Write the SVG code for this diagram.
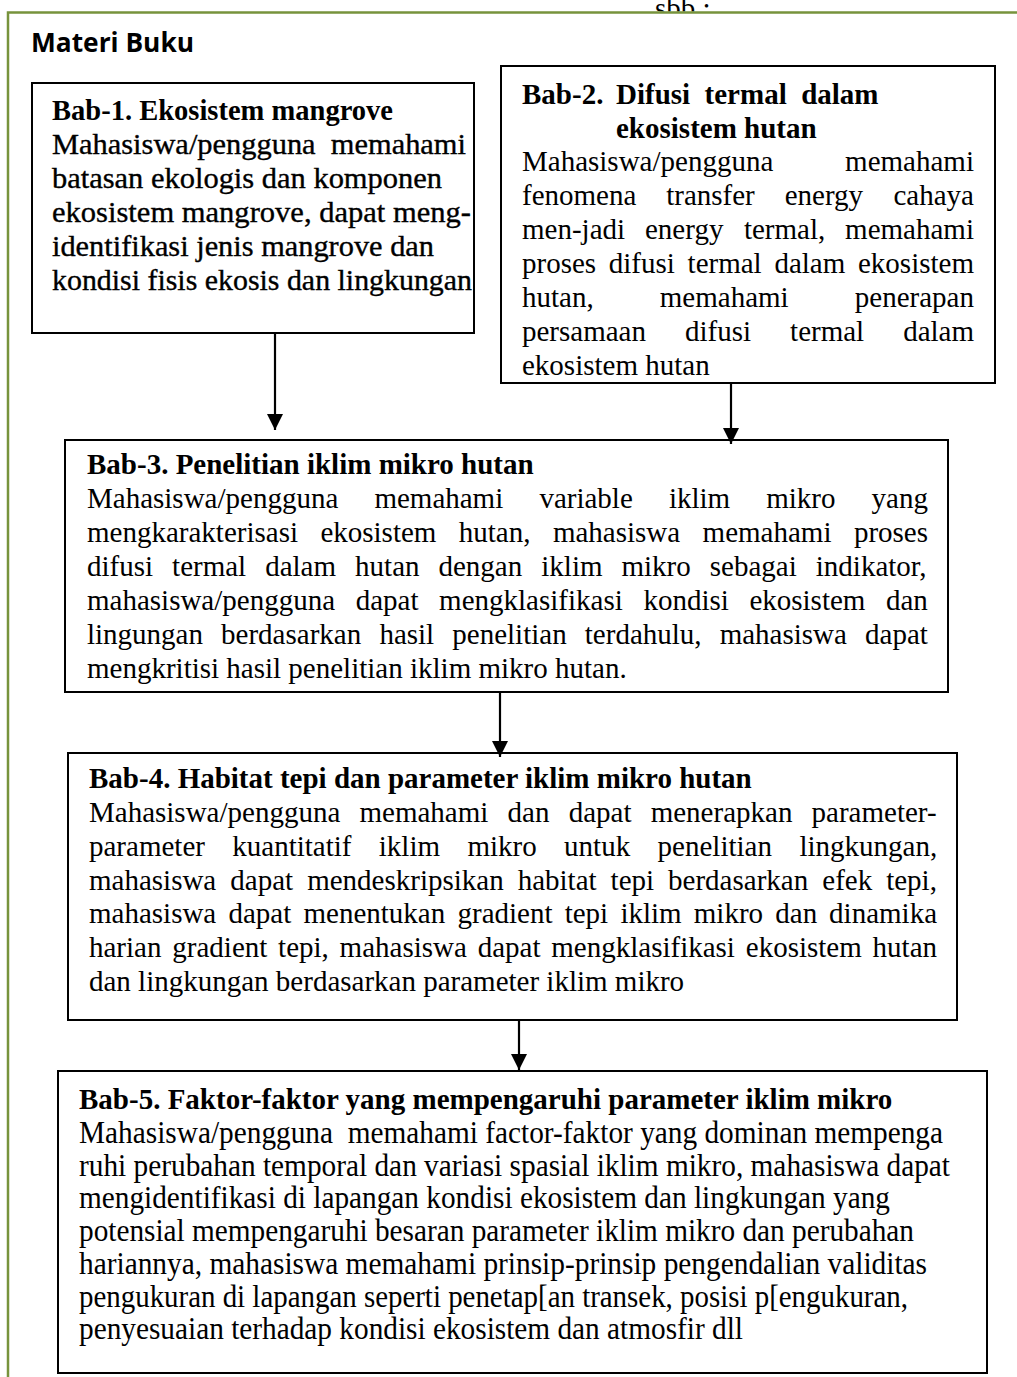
<svg xmlns="http://www.w3.org/2000/svg" width="1017" height="1377" viewBox="0 0 1017 1377">
  <style>
    .frame { fill: none; stroke: #77933c; stroke-width: 2.5; }
    .box { fill: #ffffff; stroke: #000000; stroke-width: 2; }
    .t { font-family: "Liberation Serif", "Times New Roman", serif; font-size: 29px; fill: #000000; white-space: pre; }
    .b { font-weight: bold; }
    .c { font-size: 31px; }
    .heavy { stroke: #000000; stroke-width: 0.35; }
    .title { font-family: "Open Sans", "Liberation Sans", sans-serif; font-size: 26px; font-weight: bold; fill: #000000; }
    .conn { stroke: #000000; stroke-width: 2.2; fill: none; }
  </style>
  <defs>
    <marker id="arrow" markerUnits="userSpaceOnUse" markerWidth="17" markerHeight="17" refX="16" refY="8" orient="auto">
      <path d="M0,0 L16,8 L0,16 Z" fill="#000000"/>
    </marker>
    <clipPath id="above-frame">
      <rect x="0" y="0" width="1017" height="11.5"/>
    </clipPath>
  </defs>

  <rect x="0" y="0" width="1017" height="1377" fill="#ffffff"/>

  <!-- running text above the frame, cut by the page edge -->
  <text class="t" x="655" y="18" font-size="25" clip-path="url(#above-frame)">sbb :</text>

  <!-- green page frame -->
  <path class="frame" d="M8,1377 L8,12.5 L1017,12.5"/>

  <text class="title" x="31" y="52" textLength="163" lengthAdjust="spacingAndGlyphs">Materi Buku</text>

  <!-- Bab-1 -->
  <g id="bab1">
    <rect class="box" x="32" y="83" width="442" height="250"/>
    <text class="t b" x="52" y="120" font-size="28" textLength="341" lengthAdjust="spacingAndGlyphs">Bab-1. Ekosistem mangrove</text>
    <text class="t heavy" x="52" y="154" font-size="28" textLength="414" lengthAdjust="spacingAndGlyphs">Mahasiswa/pengguna  memahami</text>
    <text class="t heavy" x="52" y="188" font-size="28" textLength="390" lengthAdjust="spacingAndGlyphs">batasan ekologis dan komponen</text>
    <text class="t heavy" x="52" y="222" font-size="28" textLength="419" lengthAdjust="spacingAndGlyphs">ekosistem mangrove, dapat meng-</text>
    <text class="t heavy" x="52" y="256" font-size="28" textLength="382" lengthAdjust="spacingAndGlyphs">identifikasi jenis mangrove dan</text>
    <text class="t heavy" x="52" y="290" font-size="28" textLength="420" lengthAdjust="spacingAndGlyphs">kondisi fisis ekosis dan lingkungan</text>
  </g>

  <!-- Bab-2 -->
  <g id="bab2">
    <rect class="box" x="501" y="66" width="494" height="317"/>
    <text class="t b" y="104"><tspan x="522">Bab-2.</tspan><tspan x="616">Difusi</tspan><tspan x="704.6">termal</tspan><tspan x="801.2">dalam</tspan></text>
    <text class="t b" x="616" y="138">ekosistem hutan</text>
    <text class="t" y="171"><tspan x="522">Mahasiswa/pengguna</tspan><tspan x="845.1">memahami</tspan></text>
    <text class="t" y="205"><tspan x="522">fenomena</tspan><tspan x="666.2">transfer</tspan><tspan x="784.7">energy</tspan><tspan x="893.5">cahaya</tspan></text>
    <text class="t" y="239"><tspan x="522">men-jadi</tspan><tspan x="645">energy</tspan><tspan x="743.9">termal,</tspan><tspan x="845.1">memahami</tspan></text>
    <text class="t" y="273"><tspan x="522">proses</tspan><tspan x="608.8">difusi</tspan><tspan x="687.6">termal</tspan><tspan x="774.4">dalam</tspan><tspan x="858">ekosistem</tspan></text>
    <text class="t" y="307"><tspan x="522">hutan,</tspan><tspan x="659.8">memahami</tspan><tspan x="854.8">penerapan</tspan></text>
    <text class="t" y="341"><tspan x="522">persamaan</tspan><tspan x="685">difusi</tspan><tspan x="790.1">termal</tspan><tspan x="903.2">dalam</tspan></text>
    <text class="t" x="522" y="375">ekosistem hutan</text>
  </g>

  <!-- Bab-3 -->
  <g id="bab3">
    <rect class="box" x="65" y="440" width="883" height="252"/>
    <text class="t b" x="87" y="474">Bab-3. Penelitian iklim mikro hutan</text>
    <text class="t" y="508"><tspan x="87">Mahasiswa/pengguna</tspan><tspan x="374.4">memahami</tspan><tspan x="539.4">variable</tspan><tspan x="668.9">iklim</tspan><tspan x="766.2">mikro</tspan><tspan x="871.6">yang</tspan></text>
    <text class="t" y="542"><tspan x="87">mengkarakterisasi</tspan><tspan x="320.4">ekosistem</tspan><tspan x="458.8">hutan,</tspan><tspan x="552.9">mahasiswa</tspan><tspan x="702.6">memahami</tspan><tspan x="853.9">proses</tspan></text>
    <text class="t" y="576"><tspan x="87">difusi</tspan><tspan x="172.1">termal</tspan><tspan x="265.2">dalam</tspan><tspan x="355.1">hutan</tspan><tspan x="438.5">dengan</tspan><tspan x="541.3">iklim</tspan><tspan x="621.5">mikro</tspan><tspan x="709.8">sebagai</tspan><tspan x="815.8">indikator,</tspan></text>
    <text class="t" y="610"><tspan x="87">mahasiswa/pengguna</tspan><tspan x="355.7">dapat</tspan><tspan x="439.1">mengklasifikasi</tspan><tspan x="643.4">kondisi</tspan><tspan x="749.4">ekosistem</tspan><tspan x="886">dan</tspan></text>
    <text class="t" y="644"><tspan x="87">lingungan</tspan><tspan x="221.1">berdasarkan</tspan><tspan x="379.4">hasil</tspan><tspan x="452.3">penelitian</tspan><tspan x="584.8">terdahulu,</tspan><tspan x="719.7">mahasiswa</tspan><tspan x="865.1">dapat</tspan></text>
    <text class="t" x="87" y="678">mengkritisi hasil penelitian iklim mikro hutan.</text>
  </g>

  <!-- Bab-4 -->
  <g id="bab4">
    <rect class="box" x="68" y="753" width="889" height="267"/>
    <text class="t b" x="89" y="788">Bab-4. Habitat tepi dan parameter iklim mikro hutan</text>
    <text class="t" y="822"><tspan x="89">Mahasiswa/pengguna</tspan><tspan x="359.5">memahami</tspan><tspan x="507.6">dan</tspan><tspan x="568.7">dapat</tspan><tspan x="650.7">menerapkan</tspan><tspan x="811.6">parameter-</tspan></text>
    <text class="t" y="856"><tspan x="89">parameter</tspan><tspan x="232.3">kuantitatif</tspan><tspan x="378.8">iklim</tspan><tspan x="467.4">mikro</tspan><tspan x="564.1">untuk</tspan><tspan x="657.6">penelitian</tspan><tspan x="799.4">lingkungan,</tspan></text>
    <text class="t" y="890"><tspan x="89">mahasiswa</tspan><tspan x="230.3">dapat</tspan><tspan x="307.2">mendeskripsikan</tspan><tspan x="517.7">habitat</tspan><tspan x="610.6">tepi</tspan><tspan x="668.1">berdasarkan</tspan><tspan x="822.3">efek</tspan><tspan x="886.2">tepi,</tspan></text>
    <text class="t" y="923"><tspan x="89">mahasiswa</tspan><tspan x="228.5">dapat</tspan><tspan x="303.5">menentukan</tspan><tspan x="457.5">gradient</tspan><tspan x="564.7">tepi</tspan><tspan x="620.4">iklim</tspan><tspan x="693.8">mikro</tspan><tspan x="775.3">dan</tspan><tspan x="829.1">dinamika</tspan></text>
    <text class="t" y="957"><tspan x="89">harian</tspan><tspan x="172.3">gradient</tspan><tspan x="278.1">tepi,</tspan><tspan x="339.6">mahasiswa</tspan><tspan x="477.7">dapat</tspan><tspan x="551.3">mengklasifikasi</tspan><tspan x="745.8">ekosistem</tspan><tspan x="872.6">hutan</tspan></text>
    <text class="t" x="89" y="991">dan lingkungan berdasarkan parameter iklim mikro</text>
  </g>

  <!-- Bab-5 -->
  <g id="bab5">
    <rect class="box" x="58" y="1071" width="929" height="302"/>
    <text class="t b" x="79" y="1109">Bab-5. Faktor-faktor yang mempengaruhi parameter iklim mikro</text>
    <text class="t c" x="79" y="1143" textLength="864" lengthAdjust="spacingAndGlyphs">Mahasiswa/pengguna  memahami factor-faktor yang dominan mempenga</text>
    <text class="t c" x="79" y="1176" textLength="871" lengthAdjust="spacingAndGlyphs">ruhi perubahan temporal dan variasi spasial iklim mikro, mahasiswa dapat</text>
    <text class="t c" x="79" y="1208" textLength="811" lengthAdjust="spacingAndGlyphs">mengidentifikasi di lapangan kondisi ekosistem dan lingkungan yang</text>
    <text class="t c" x="79" y="1241" textLength="835" lengthAdjust="spacingAndGlyphs">potensial mempengaruhi besaran parameter iklim mikro dan perubahan</text>
    <text class="t c" x="79" y="1274" textLength="848" lengthAdjust="spacingAndGlyphs">hariannya, mahasiswa memahami prinsip-prinsip pengendalian validitas</text>
    <text class="t c" x="79" y="1307" textLength="829" lengthAdjust="spacingAndGlyphs">pengukuran di lapangan seperti penetap[an transek, posisi p[engukuran,</text>
    <text class="t c" x="79" y="1339" textLength="664" lengthAdjust="spacingAndGlyphs">penyesuaian terhadap kondisi ekosistem dan atmosfir dll</text>
  </g>

  <!-- connectors -->
  <g id="connectors">
    <line class="conn" x1="275" y1="333" x2="275" y2="430" marker-end="url(#arrow)"/>
    <line class="conn" x1="731" y1="383" x2="731" y2="444" marker-end="url(#arrow)"/>
    <line class="conn" x1="500" y1="692" x2="500" y2="757" marker-end="url(#arrow)"/>
    <line class="conn" x1="519" y1="1020" x2="519" y2="1070" marker-end="url(#arrow)"/>
  </g>
</svg>
